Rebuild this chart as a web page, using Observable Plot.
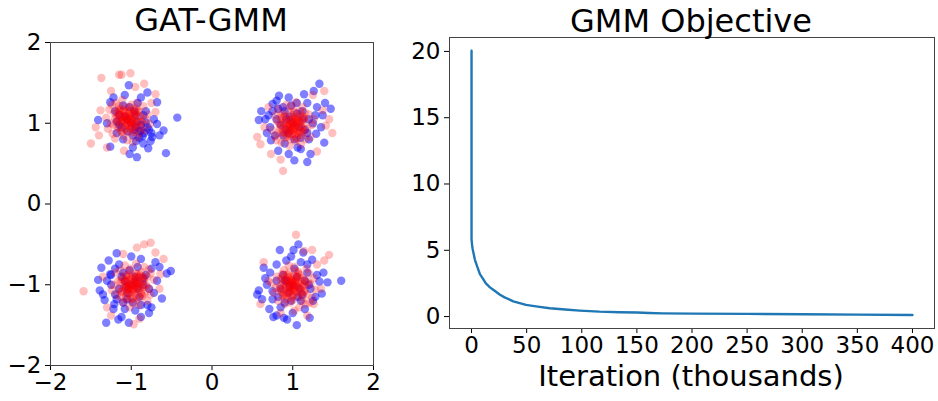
<!DOCTYPE html>
<html>
<head>
<meta charset="utf-8">
<script src="https://cdn.jsdelivr.net/npm/d3@7"></script>
<script src="https://cdn.jsdelivr.net/npm/@observablehq/plot@0.6"></script>
<style>
  html, body { margin: 0; padding: 0; background: #fff; }
  body { width: 938px; height: 401px; position: relative; overflow: hidden; font-family: "DejaVu Sans", sans-serif; }
  .panel { position: absolute; top: 0; }
  .ttl { position: absolute; white-space: nowrap; line-height: 1; color: #000; transform: translateX(-50%); }
</style>
</head>
<body>
<div id="left" class="panel" style="left:0px"></div>
<div id="right" class="panel" style="left:400px"></div>
<div class="ttl" style="left:211px; top:4px; font-size:32px;">GAT-GMM</div>
<div class="ttl" style="left:691px; top:5px; font-size:32px;">GMM Objective</div>
<div class="ttl" style="left:691px; top:362px; font-size:29px;">Iteration (thousands)</div>
<script>
// ---- Left panel: GAT-GMM samples (blue) and real GMM samples (red) ----
const scatterTicks = [-2, -1, 0, 1, 2];

const bluePoints = [
  // top-left cluster
  [-0.43,1.07],[-0.57,0.63],[-0.93,0.58],[-1.02,0.62],[-0.68,1.26],[-0.80,1.38],[-1.03,1.47],[-1.26,1.26],
  [-1.41,1.04],[-0.60,0.91],[-0.74,0.83],[-0.79,0.69],[-1.26,0.71],[-0.88,0.91],[-0.68,0.99],[-0.82,1.01],
  [-1.05,1.05],[-0.95,1.10],[-1.15,0.98],[-0.90,0.82],[-0.85,0.75],[-0.78,0.92],[-0.72,1.05],[-0.92,1.25],
  [-1.20,1.15],[-1.30,1.00],[-1.10,0.80],[-0.98,0.70],[-0.84,0.88],[-0.76,0.78],[-1.18,0.88],[-0.88,1.32],
  [-1.08,1.35],[-0.65,0.85],[-0.95,0.95],[-1.22,1.32],
  [-1.00,1.00],[-1.08,1.08],[-0.92,1.02],[-1.12,0.95],[-0.96,1.15],[-1.05,0.90],[-0.88,0.98],[-1.15,1.10],
  [-0.98,0.85],[-0.85,1.10],[-1.02,1.20],[-1.18,1.02],[-0.90,0.90],[-0.80,0.95],[-0.86,0.84],[-0.94,0.78],
  [-1.10,1.22],[-0.82,1.15],[-0.75,0.88],[-0.96,0.92],
  // top-right cluster
  [1.33,1.49],[1.26,1.40],[0.83,1.34],[0.75,1.24],[0.61,1.15],[0.58,1.04],[0.73,0.79],[0.82,0.66],
  [1.02,0.54],[1.18,0.52],[1.39,0.76],[1.47,1.18],[1.37,1.10],[0.95,1.32],[1.14,1.36],[1.29,0.87],
  [1.06,0.70],[0.70,1.10],[0.66,1.05],[0.72,0.95],[0.78,0.85],[0.90,0.75],[1.10,0.68],[1.20,0.80],
  [1.25,1.00],[1.30,1.20],[1.05,1.25],[0.88,1.20],[0.92,0.92],[1.12,1.05],[0.68,0.88],[1.35,0.95],
  [0.80,1.28],[1.18,1.25],[0.95,0.62],[1.22,0.62],[1.40,1.25],
  [1.00,1.00],[0.92,1.05],[1.08,0.95],[0.95,0.88],[1.05,1.12],[0.85,0.98],[1.15,0.92],[0.90,1.15],
  [1.12,1.15],[0.80,1.05],[1.02,0.80],[0.88,0.85],[1.20,1.05],[0.75,1.15],[0.98,1.22],[1.18,0.88],
  [0.82,1.18],[1.10,0.82],[0.96,1.08],[1.28,1.10],
  // bottom-left cluster
  [-1.18,-0.61],[-1.37,-0.79],[-1.41,-0.94],[-1.39,-1.07],[-1.33,-1.19],[-1.31,-1.47],[-1.16,-1.43],[-1.03,-1.47],
  [-0.88,-1.40],[-0.75,-1.28],[-0.62,-1.17],[-0.51,-0.83],[-0.56,-0.86],[-0.70,-0.72],[-1.00,-0.65],[-0.88,-0.68],
  [-1.26,-0.87],[-1.21,-1.24],[-1.25,-1.00],[-1.20,-1.12],[-1.30,-0.95],[-1.15,-0.75],[-1.08,-1.30],[-0.95,-1.32],
  [-0.80,-1.25],[-0.72,-1.10],[-0.68,-0.95],[-0.75,-0.80],[-0.92,-0.78],[-1.10,-0.85],[-1.22,-1.30],[-1.05,-1.18],
  [-0.85,-0.92],[-1.35,-1.12],[-0.65,-0.78],[-1.12,-1.40],[-0.78,-1.35],[-1.28,-0.70],
  [-1.00,-1.00],[-1.08,-0.95],[-0.92,-1.05],[-1.05,-1.10],[-0.95,-0.90],[-1.15,-1.05],[-0.85,-1.00],[-1.12,-0.90],
  [-0.90,-1.15],[-1.02,-0.82],[-0.82,-0.88],[-1.18,-1.18],[-1.10,-1.22],[-0.88,-1.25],[-1.25,-0.88],[-0.78,-1.05],
  [-0.98,-1.22],[-1.20,-0.80],[-0.94,-0.96],[-1.06,-1.02],
  // bottom-right cluster
  [0.84,-0.57],[1.07,-0.50],[1.01,-0.57],[1.60,-0.95],[1.43,-0.97],[1.33,-0.96],[0.56,-1.12],[0.58,-1.07],
  [0.64,-0.79],[0.71,-1.30],[0.76,-1.40],[0.93,-1.43],[1.05,-1.50],[1.21,-1.41],[1.36,-1.11],[1.24,-0.69],
  [1.13,-0.60],[0.89,-1.41],[0.72,-0.85],[0.68,-1.00],[0.75,-1.18],[0.85,-1.28],[1.00,-1.35],[1.15,-1.30],
  [1.28,-1.15],[1.30,-0.88],[1.18,-0.75],[0.92,-0.70],[0.80,-0.75],[1.10,-1.20],[0.90,-0.95],[1.22,-1.05],
  [0.66,-0.92],[0.98,-0.65],[1.38,-0.85],[0.80,-1.38],[1.10,-0.72],[0.62,-1.18],
  [1.00,-1.00],[0.92,-0.95],[1.08,-1.05],[0.95,-1.10],[1.05,-0.90],[0.85,-1.05],[1.15,-0.95],[0.88,-0.88],
  [1.12,-1.12],[0.80,-0.95],[0.98,-1.20],[1.20,-1.00],[0.90,-1.22],[0.82,-1.15],[1.18,-0.85],[1.02,-0.80],
  [0.75,-1.08],[1.25,-1.20],[0.96,-1.02],[1.06,-1.15]
];

const redPoints = [
  // top-left cluster
  [-1.05,1.03],[-1.00,1.11],[-1.12,1.07],[-0.95,0.98],[-1.08,0.93],[-0.91,1.15],[-1.17,0.95],[-1.03,1.20],
  [-1.21,1.13],[-0.87,1.02],[-1.10,0.85],[-0.97,0.89],[-1.15,1.21],[-0.93,1.25],[-1.25,1.00],[-0.83,0.91],
  [-1.07,1.09],[-1.01,0.99],[-1.13,1.01],[-0.99,1.05],[-1.19,1.25],[-0.89,1.08],[-1.27,1.17],[-1.05,0.79],
  [-0.80,1.11],[-1.23,0.87],[-0.95,1.13],[-1.09,1.15],[-1.02,0.94],[-1.16,1.03],[-0.92,0.83],[-1.31,1.07],
  [-0.85,1.21],[-1.11,1.29],[-0.98,0.77],[-1.20,0.81],[-0.77,0.99],[-1.14,1.11],[-1.04,1.06],[-0.96,1.02],
  [-1.06,0.97],[-0.94,1.18],[-1.18,1.08],[-0.88,0.94],[-1.24,1.23],[-1.00,1.23],[-1.12,0.89],[-0.82,1.05],
  [-1.29,0.93],[-1.03,1.14],[-1.08,1.04],[-0.99,0.96],[-1.15,1.16],[-0.90,0.88],[-1.22,0.98],
  [-1.01,1.06],[-1.08,1.09],[-0.98,1.01],[-1.06,0.98],[-0.95,1.10],[-1.12,1.00],[-1.03,1.14],[-1.14,1.11],
  [-0.93,1.02],[-1.07,0.93],[-0.99,0.95],[-1.10,1.16],[-0.96,1.17],[-1.17,1.03],[-0.90,0.97],[-1.05,1.08],
  [-1.02,1.02],[-1.09,1.03],[-1.00,1.05],[-1.13,1.18],[-0.94,1.07],[-1.18,1.13],[-1.04,0.89],[-0.89,1.09],
  [-1.15,0.94],[-0.98,1.11],[-1.07,1.12],[-1.02,0.98],[-1.11,1.04],[-0.96,0.92],[-1.20,1.06],[-0.92,1.15],
  [-1.08,1.20],[-1.00,0.88],[-1.13,0.90],[-0.87,1.01],[-1.10,1.08],[-1.04,1.05],[-0.98,1.04],[-1.05,1.00],
  [-0.97,1.13],[-1.12,1.07],[-0.94,0.98],[-1.16,1.16],[-1.01,1.16],
  [-1.37,1.56],[-1.15,1.60],[-1.01,1.62],[-0.84,1.49],[-1.50,0.75],[-0.70,1.14],[-0.70,1.36],[-1.38,1.16],
  [-1.44,0.95],[-1.30,0.70],[-1.09,0.66],[-1.12,1.60],[-0.95,1.45],[-1.40,0.85],[-1.25,1.40],[-0.75,1.25],
  // top-right cluster
  [1.00,0.98],[0.92,1.03],[0.96,0.91],[1.05,1.08],[1.10,0.95],[0.88,1.12],[1.08,0.86],[0.83,1.00],
  [0.90,0.82],[1.01,1.16],[1.18,0.93],[1.14,1.06],[0.82,0.88],[0.78,1.10],[1.03,0.78],[1.12,1.20],
  [0.94,0.96],[1.04,1.02],[1.02,0.90],[0.98,1.04],[0.78,0.84],[0.95,1.14],[0.86,0.76],[1.24,0.98],
  [0.92,1.23],[1.16,0.80],[0.90,1.08],[0.88,0.94],[1.09,1.01],[1.00,0.87],[1.20,1.11],[0.96,0.72],
  [0.82,1.18],[0.74,0.92],[1.26,1.05],[1.22,0.83],[1.04,1.26],[0.92,0.89],[0.97,0.99],[1.01,1.07],
  [1.06,0.97],[0.85,1.09],[0.95,0.85],[1.09,1.15],[0.80,0.79],[0.80,1.03],[1.14,0.91],[0.98,1.21],
  [1.10,0.74],[0.89,1.00],[0.99,0.95],[1.07,1.04],[0.87,0.88],[1.15,1.13],[1.05,0.81],
  [1.02,0.94],[1.05,1.01],[0.97,0.91],[0.94,0.99],[1.06,0.88],[0.96,1.05],[1.10,0.96],[1.07,1.07],
  [0.98,0.86],[0.89,1.00],[0.91,0.92],[1.12,1.03],[1.13,0.89],[0.99,1.10],[0.93,0.83],[1.04,0.98],
  [0.98,0.95],[0.99,1.02],[1.01,0.93],[1.14,1.06],[1.03,0.87],[1.09,1.11],[0.85,0.97],[1.05,0.82],
  [0.90,1.08],[1.07,0.91],[1.08,1.00],[0.94,0.95],[1.00,1.04],[0.88,0.89],[1.02,1.13],[1.11,0.85],
  [1.16,1.01],[0.84,0.93],[0.86,1.06],[0.97,0.80],[1.04,1.03],[1.01,0.97],[1.00,0.91],[0.96,0.98],
  [1.09,0.90],[1.03,1.05],[0.94,0.87],[1.12,1.09],[1.12,0.94],
  [0.88,0.41],[0.56,0.83],[0.60,0.74],[0.73,0.62],[1.49,0.88],[1.41,0.97],[1.39,1.40],[1.37,1.16],
  [0.65,0.95],[1.30,0.65],[0.85,0.55],[1.25,1.35],[0.70,1.20],[1.45,1.05],
  // bottom-left cluster
  [-0.98,-1.00],[-0.90,-1.05],[-0.94,-0.93],[-1.03,-1.10],[-1.08,-0.97],[-0.86,-1.14],[-1.06,-0.88],[-0.81,-1.02],
  [-0.88,-0.84],[-0.99,-1.18],[-1.16,-0.95],[-1.12,-1.08],[-0.80,-0.90],[-0.76,-1.12],[-1.01,-0.80],[-1.10,-1.22],
  [-0.92,-0.98],[-1.02,-1.04],[-1.00,-0.92],[-0.96,-1.06],[-0.76,-0.86],[-0.93,-1.16],[-0.84,-0.78],[-1.22,-1.00],
  [-0.90,-1.25],[-1.14,-0.82],[-0.88,-1.10],[-0.86,-0.96],[-1.07,-1.03],[-0.98,-0.89],[-1.18,-1.13],[-0.94,-0.74],
  [-0.80,-1.20],[-0.72,-0.94],[-1.24,-1.07],[-1.20,-0.85],[-1.02,-1.28],[-0.90,-0.91],[-0.95,-1.01],[-0.99,-1.09],
  [-1.04,-0.99],[-0.83,-1.11],[-0.93,-0.87],[-1.07,-1.17],[-0.78,-0.81],[-0.78,-1.05],[-1.12,-0.93],[-0.96,-1.23],
  [-1.08,-0.76],[-0.87,-1.02],[-0.97,-0.97],[-1.05,-1.06],[-0.85,-0.90],[-1.13,-1.15],[-1.03,-0.83],
  [-1.01,-1.00],[-0.94,-0.97],[-1.04,-1.05],[-0.96,-1.08],[-1.07,-0.96],[-0.90,-1.06],[-0.99,-0.92],[-0.88,-0.95],
  [-1.09,-1.04],[-0.95,-1.13],[-1.03,-1.11],[-0.92,-0.90],[-1.06,-0.89],[-0.85,-1.03],[-1.12,-1.09],[-0.97,-0.98],
  [-1.00,-1.04],[-0.93,-1.03],[-1.02,-1.01],[-0.89,-0.88],[-1.08,-0.99],[-0.84,-0.93],[-0.98,-1.17],[-1.13,-0.97],
  [-0.87,-1.12],[-1.04,-0.95],[-0.95,-0.94],[-1.00,-1.08],[-0.91,-1.02],[-1.06,-1.14],[-0.82,-1.00],[-1.10,-0.91],
  [-0.94,-0.86],[-1.02,-1.18],[-0.89,-1.16],[-1.15,-1.05],[-0.92,-0.98],[-0.98,-1.01],[-1.04,-1.02],[-0.97,-1.06],
  [-1.05,-0.93],[-0.90,-0.99],[-1.08,-1.08],[-0.86,-0.90],[-1.01,-0.90],
  [-1.59,-1.08],[-0.76,-0.48],[-0.84,-0.50],[-0.60,-0.68],[-0.97,-1.49],[-1.30,-1.28],[-0.64,-0.87],[-0.93,-0.54],
  [-0.70,-0.60],[-1.25,-1.38],[-0.65,-1.05],[-1.35,-0.90],[-0.90,-1.42],[-1.10,-0.62],
  // bottom-right cluster
  [1.02,-1.02],[0.97,-1.10],[1.09,-1.06],[0.92,-0.97],[1.05,-0.92],[0.88,-1.14],[1.14,-0.94],[1.00,-1.19],
  [1.18,-1.12],[0.84,-1.01],[1.07,-0.84],[0.94,-0.88],[1.12,-1.20],[0.90,-1.24],[1.22,-0.99],[0.80,-0.90],
  [1.04,-1.08],[0.98,-0.98],[1.10,-1.00],[0.96,-1.04],[1.16,-1.24],[0.86,-1.07],[1.24,-1.16],[1.02,-0.78],
  [0.77,-1.10],[1.20,-0.86],[0.92,-1.12],[1.06,-1.14],[0.99,-0.93],[1.13,-1.02],[0.89,-0.82],[1.28,-1.06],
  [0.82,-1.20],[1.08,-1.28],[0.95,-0.76],[1.17,-0.80],[0.74,-0.98],[1.11,-1.10],[1.01,-1.05],[0.93,-1.01],
  [1.03,-0.96],[0.91,-1.17],[1.15,-1.07],[0.85,-0.93],[1.21,-1.22],[0.97,-1.22],[1.09,-0.88],[0.79,-1.04],
  [1.26,-0.92],[1.00,-1.13],[1.05,-1.03],[0.96,-0.95],[1.12,-1.15],[0.87,-0.87],[1.19,-0.97],
  [0.98,-0.97],[0.95,-1.04],[1.03,-0.94],[1.06,-1.02],[0.94,-0.91],[1.04,-1.08],[0.90,-0.99],[0.93,-1.10],
  [1.02,-0.89],[1.11,-1.03],[1.09,-0.95],[0.88,-1.06],[0.87,-0.92],[1.01,-1.13],[1.07,-0.86],[0.96,-1.01],
  [1.02,-0.98],[1.01,-1.05],[0.99,-0.96],[0.86,-1.09],[0.97,-0.90],[0.91,-1.14],[1.15,-1.00],[0.95,-0.85],
  [1.10,-1.11],[0.93,-0.94],[0.92,-1.03],[1.06,-0.98],[1.00,-1.07],[1.12,-0.92],[0.98,-1.16],[0.89,-0.88],
  [0.84,-1.04],[1.16,-0.96],[1.14,-1.09],[1.03,-0.83],[0.96,-1.06],[0.99,-1.00],[1.00,-0.94],[1.04,-1.01],
  [0.91,-0.93],[0.97,-1.08],[1.06,-0.90],[0.88,-1.12],[0.88,-0.97],
  [1.04,-0.38],[1.24,-0.57],[1.45,-0.63],[1.39,-0.70],[0.60,-1.24],[1.26,-1.24],[1.02,-1.32],[1.14,-0.58],
  [0.64,-0.72],[1.30,-0.75],[0.70,-0.95],[1.35,-1.05],[0.85,-1.35],[1.18,-1.38]
];

// ---- Right panel: GMM objective over training ----
const objectiveTicksX = [0, 50, 100, 150, 200, 250, 300, 350, 400];
const objectiveTicksY = [0, 5, 10, 15, 20];
const iterThousands = [0, 0, 0.5, 1, 2, 3, 5, 7.6, 10, 13, 16.7, 20, 25.8, 30, 37.9, 49.4, 60, 71, 85, 98, 116, 134, 150, 161, 173, 200, 250, 300, 350, 400];
const objectiveVals = [20.05, 5.8, 5.4, 5.1, 4.7, 4.3, 3.8, 3.2, 2.9, 2.5, 2.2, 2.0, 1.65, 1.45, 1.15, 0.88, 0.75, 0.63, 0.53, 0.45, 0.37, 0.33, 0.31, 0.27, 0.24, 0.22, 0.2, 0.18, 0.15, 0.12];

const minusFmt = d => (d < 0 ? "\u2212" + Math.abs(d) : String(d));
const baseStyle = { fontFamily: "DejaVu Sans", fontSize: "23px", color: "#000", background: "transparent", overflow: "visible" };

const blueData = bluePoints.map(([x, y]) => ({ x, y }));
const redData = redPoints.map(([x, y]) => ({ x, y }));

const left = Plot.plot({
  width: 390, height: 401,
  marginLeft: 50, marginRight: 17, marginTop: 42, marginBottom: 36,
  style: baseStyle,
  x: { domain: [-2, 2], ticks: scatterTicks, tickFormat: minusFmt, label: null, tickSize: 5, tickPadding: 3 },
  y: { domain: [-2, 2], ticks: scatterTicks, tickFormat: minusFmt, label: null, tickSize: 5, tickPadding: 4 },
  marks: [
    Plot.dot(blueData, { x: "x", y: "y", r: 4.2, fill: "#0000ff", fillOpacity: 0.5, stroke: "none" }),
    Plot.dot(redData, { x: "x", y: "y", r: 4.2, fill: "#ff0000", fillOpacity: 0.25, stroke: "none" }),
    Plot.frame({ stroke: "#444", strokeWidth: 1 })
  ]
});
document.getElementById("left").appendChild(left);

const lineData = iterThousands.map((t, i) => ({ t, v: objectiveVals[i] }));
const right = Plot.plot({
  width: 538, height: 401,
  marginLeft: 49, marginRight: 4, marginTop: 37, marginBottom: 73,
  style: baseStyle,
  x: { domain: [-20, 420], ticks: objectiveTicksX, label: null, tickSize: 5, tickPadding: 3 },
  y: { domain: [-0.9, 21.05], ticks: objectiveTicksY, label: null, tickSize: 5, tickPadding: 4 },
  marks: [
    Plot.line(lineData, { x: "t", y: "v", stroke: "#1f77b4", strokeWidth: 2.4 }),
    Plot.frame({ stroke: "#444", strokeWidth: 1 })
  ]
});
document.getElementById("right").appendChild(right);
</script>
</body>
</html>
